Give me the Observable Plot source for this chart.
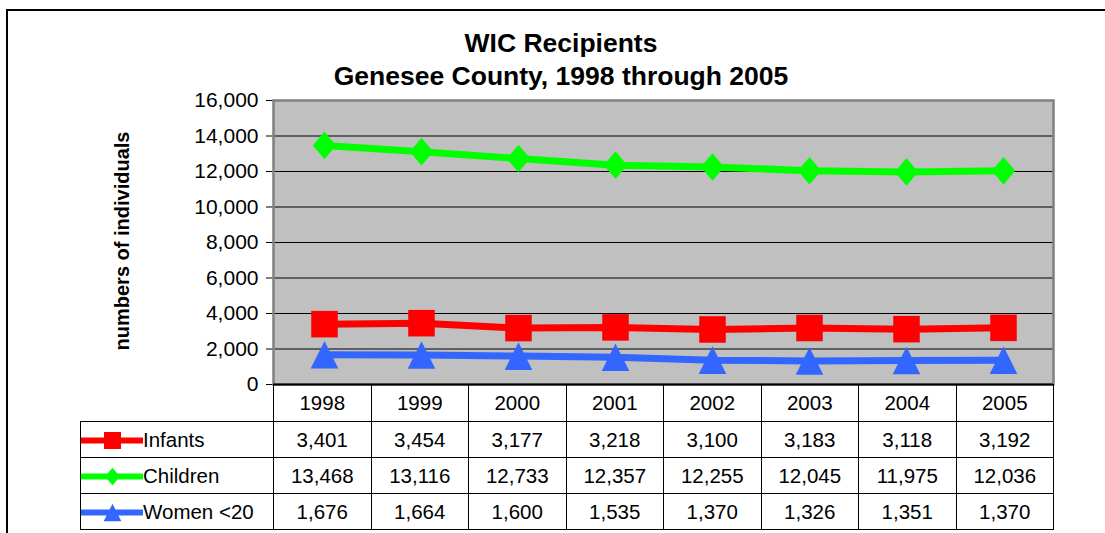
<!DOCTYPE html>
<html>
<head>
<meta charset="utf-8">
<script src="https://cdn.jsdelivr.net/npm/d3@7"></script>
<script src="https://cdn.jsdelivr.net/npm/@observablehq/plot@0.6"></script>
<style>
  html, body { margin: 0; padding: 0; background: #fff; }
  #wrap { position: relative; width: 1105px; height: 533px; overflow: hidden; font-family: "Liberation Sans", Arial, sans-serif; color: #000; }
  #frame { position: absolute; left: 6px; top: 9px; width: 1120px; height: 600px; border-left: 2.5px solid #000; border-top: 2.5px solid #000; }
  #title { position: absolute; left: 0; top: 27px; width: 1122px; text-align: center; font-weight: bold; font-size: 26.5px; line-height: 33px; }
  #ylabel { position: absolute; left: 122px; top: 241px; transform: translate(-50%, -50%) rotate(-90deg); font-weight: bold; font-size: 20px; white-space: nowrap; }
  #chart { position: absolute; left: 0; top: 0; }
  #table { position: absolute; left: 80px; top: 384px; border-collapse: collapse; table-layout: fixed; font-size: 20.5px; }
  #table td { border: 1.5px solid #000; text-align: center; padding: 0; height: 35px; white-space: nowrap; }
  #table tr.head td { height: 37px; border-top: none; }
  #table tr.head td.blank { border: none; }
  #table td.leg { text-align: left; }
  #table td.leg div { display: flex; align-items: center; }
  #table td.leg svg { display: block; }
</style>
</head>
<body>
<div id="wrap">
  <div id="frame"></div>
  <div id="title">WIC Recipients<br>Genesee County, 1998 through 2005</div>
  <div id="ylabel">numbers of individuals</div>
  <div id="chart"></div>
  <table id="table"></table>
</div>
<script>
// ---- data ----
const years = ["1998", "1999", "2000", "2001", "2002", "2003", "2004", "2005"];
const seriesNames = ["Infants", "Children", "Women <20"];
const infants = [3401, 3454, 3177, 3218, 3100, 3183, 3118, 3192];
const children = [13468, 13116, 12733, 12357, 12255, 12045, 11975, 12036];
const women = [1676, 1664, 1600, 1535, 1370, 1326, 1351, 1370];
const seriesColors = ["#ff0000", "#00ff00", "#3366ff"];
const yTicks = [0, 2000, 4000, 6000, 8000, 10000, 12000, 14000, 16000];

const seriesValues = [infants, children, women];
const fmt = d3.format(",");

// custom symbols, bounding box centred on the point
const symSquare = {draw(c, size) { const s = Math.sqrt(size) * 0.48; c.rect(-s, -s, 2 * s, 2 * s); }};
const symDiamond = {draw(c, size) { const s = Math.sqrt(size) / 2; const w = s * 0.85; c.moveTo(0, -s); c.lineTo(w, 0); c.lineTo(0, s); c.lineTo(-w, 0); c.closePath(); }};
const symTriangle = {draw(c, size) { const s = Math.sqrt(size) / 2; c.moveTo(0, -s); c.lineTo(s, s); c.lineTo(-s, s); c.closePath(); }};
const seriesSymbols = [symSquare, symDiamond, symTriangle];

const rows = seriesNames.flatMap((name, i) =>
  years.map((year, j) => ({series: name, year, value: seriesValues[i][j]})));

const marks = [
  Plot.frame({fill: "#c0c0c0"}),
  Plot.ruleY(yTicks.slice(1, -1), {stroke: "#000", strokeWidth: 1}),
  Plot.frame({stroke: "#808080", strokeWidth: 2.5}),
  Plot.ruleY([0], {stroke: "#000", strokeWidth: 2})
];
seriesNames.forEach((name, i) => {
  const data = rows.filter(d => d.series === name);
  marks.push(Plot.line(data, {x: "year", y: "value", stroke: seriesColors[i], strokeWidth: 7}));
});
seriesNames.forEach((name, i) => {
  const data = rows.filter(d => d.series === name);
  marks.push(Plot.dot(data, {x: "year", y: "value", symbol: seriesSymbols[i], r: 15.6, fill: seriesColors[i], stroke: "none"}));
});

const chart = Plot.plot({
  width: 1105,
  height: 386,
  marginTop: 100,
  marginBottom: 2,
  marginLeft: 273,
  marginRight: 52,
  style: {fontFamily: "Liberation Sans, Arial, sans-serif", fontSize: "21px", background: "transparent", color: "#000", overflow: "visible"},
  x: {type: "point", domain: years, padding: 0.5, axis: null},
  y: {domain: [0, 16000], ticks: yTicks, tickFormat: fmt, tickSize: 7, tickPadding: 8, label: null, line: true},
  marks
});
document.getElementById("chart").appendChild(chart);

// ---- data table ----
const table = document.getElementById("table");
const colgroup = document.createElement("colgroup");
[193, ...years.map(() => 97.5)].forEach(w => { const c = document.createElement("col"); c.style.width = w + "px"; colgroup.appendChild(c); });
table.appendChild(colgroup);
const head = document.createElement("tr");
head.className = "head";
const blank = document.createElement("td"); blank.className = "blank"; head.appendChild(blank);
years.forEach(y => { const td = document.createElement("td"); td.textContent = y; head.appendChild(td); });
table.appendChild(head);

seriesNames.forEach((name, i) => {
  const tr = document.createElement("tr");
  const leg = document.createElement("td");
  leg.className = "leg";
  const box = document.createElement("div");
  const swatch = Plot.plot({
    width: 62, height: 30, margin: 0,
    style: {background: "transparent", overflow: "visible"},
    x: {domain: [-1, 1], axis: null},
    y: {domain: [-1, 1], axis: null},
    marks: [
      Plot.ruleY([0], {stroke: seriesColors[i], strokeWidth: 6}),
      Plot.dot([0], {x: d => d, y: d => d, symbol: seriesSymbols[i], r: 10, fill: seriesColors[i], stroke: "none"})
    ]
  });
  box.appendChild(swatch);
  const lab = document.createElement("span");
  lab.textContent = name;
  box.appendChild(lab);
  leg.appendChild(box);
  tr.appendChild(leg);
  seriesValues[i].forEach(v => { const td = document.createElement("td"); td.textContent = fmt(v); tr.appendChild(td); });
  table.appendChild(tr);
});
</script>
</body>
</html>
